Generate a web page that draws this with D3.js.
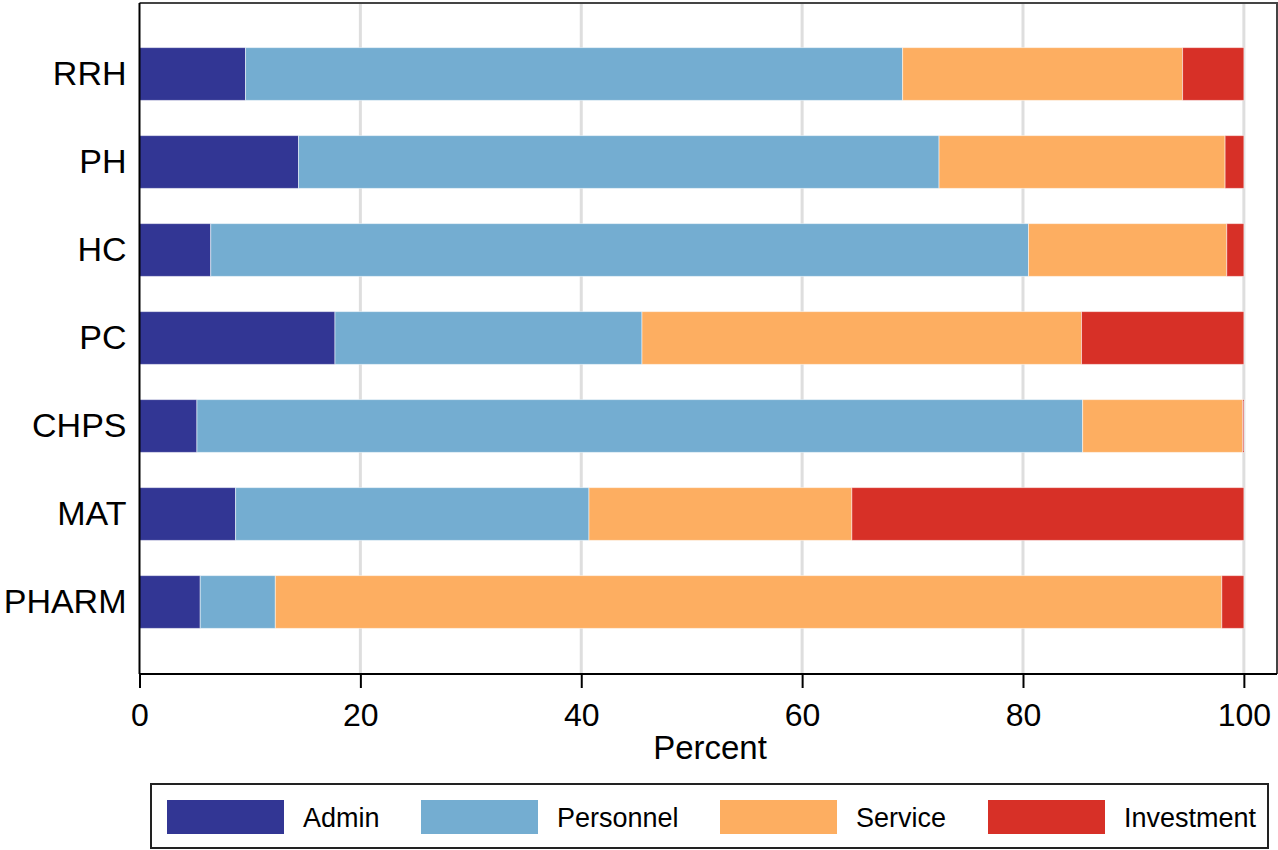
<!DOCTYPE html>
<html lang="en">
<head>
    <meta charset="UTF-8">
    <title>Spending shares by facility type</title>
    <script src="https://d3js.org/d3.v7.min.js"></script>
    <style>
        body { margin: 0; background: #fff; }
        svg { font-family: "Liberation Sans", Arial, sans-serif; }
    </style>
</head>
<body>
    <svg id="chart" width="1278" height="850"></svg>
    <script>
        // facility types, top to bottom
        const categories = ["RRH", "PH", "HC", "PC", "CHPS", "MAT", "PHARM"];
        const seriesNames = ["Admin", "Personnel", "Service", "Investment"];
        // percent shares per category (same order as categories)
        const admin      = [9.6, 14.4, 6.45, 17.7, 5.2, 8.7, 5.5];
        const personnel  = [59.5, 58.0, 74.05, 27.8, 80.2, 32.0, 6.8];
        const service    = [25.35, 25.9, 17.95, 39.8, 14.5, 23.8, 85.7];
        const investment = [5.55, 1.7, 1.55, 14.7, 0.1, 35.5, 2.0];
        const xTicks = [0, 20, 40, 60, 80, 100];
        const colors = ["#323694", "#74add1", "#fdae61", "#d73027"];

        const svg = d3.select("#chart");
        const plotL = 139.5, plotR = 1277, plotT = 3, plotB = 674;

        const x = d3.scaleLinear().domain([0, 103]).range([plotL, plotR]);
        const y = d3.scaleBand().domain(categories).range([30, 646]).paddingInner(0.4).paddingOuter(0.2);

        const rows = categories.map((c, i) => ({
            cat: c, Admin: admin[i], Personnel: personnel[i], Service: service[i], Investment: investment[i]
        }));
        const stacked = d3.stack().keys(seriesNames)(rows);

        // grid lines
        svg.append("g").selectAll("line")
            .data(xTicks.filter(t => t > 0))
            .join("line")
            .attr("x1", d => x(d)).attr("x2", d => x(d))
            .attr("y1", plotT).attr("y2", plotB)
            .attr("stroke", "#dedede")
            .attr("stroke-width", 3);

        // frame (top & right)
        svg.append("path")
            .attr("d", `M${plotL},${plotT} H${plotR} V${plotB}`)
            .attr("fill", "none")
            .attr("stroke", "#444")
            .attr("stroke-width", 2);

        // bars
        svg.append("g").selectAll("g")
            .data(stacked)
            .join("g")
            .attr("fill", (d, i) => colors[i])
            .selectAll("rect")
            .data(d => d)
            .join("rect")
            .attr("x", d => x(d[0]))
            .attr("width", d => x(d[1]) - x(d[0]))
            .attr("y", d => y(d.data.cat))
            .attr("height", y.bandwidth())
            .attr("stroke", "#ffffff")
            .attr("stroke-opacity", 0.5)
            .attr("stroke-width", 1);

        // x axis
        const xAxis = svg.append("g")
            .attr("transform", `translate(0,${plotB})`)
            .call(d3.axisBottom(x).tickValues(xTicks).tickSize(14).tickPadding(15).tickSizeOuter(0));
        xAxis.select(".domain").attr("stroke", "#000").attr("stroke-width", 2)
            .attr("d", `M${plotL},0H${plotR}`);
        xAxis.selectAll(".tick line").attr("stroke", "#000").attr("stroke-width", 2);
        xAxis.selectAll(".tick text").attr("font-size", 32).attr("fill", "#000")
            .attr("font-family", "Liberation Sans, Arial, sans-serif");

        // y axis
        const yAxis = svg.append("g")
            .attr("transform", `translate(${plotL},0)`)
            .call(d3.axisLeft(y).tickSize(0).tickPadding(13));
        yAxis.select(".domain").attr("stroke", "#000").attr("stroke-width", 2)
            .attr("d", `M0,${plotT}V${plotB}`);
        yAxis.selectAll(".tick text").attr("font-size", 34).attr("fill", "#000")
            .attr("font-family", "Liberation Sans, Arial, sans-serif");

        // axis title
        svg.append("text")
            .attr("x", 710)
            .attr("y", 759)
            .attr("text-anchor", "middle")
            .attr("font-size", 33)
            .text("Percent");

        // legend
        const legend = svg.append("g");
        legend.append("rect")
            .attr("x", 151).attr("y", 784)
            .attr("width", 1117).attr("height", 64)
            .attr("fill", "#fff")
            .attr("stroke", "#222")
            .attr("stroke-width", 2);
        const legendX = [167, 421, 720, 988];
        const item = legend.selectAll("g.item")
            .data(seriesNames)
            .join("g")
            .attr("class", "item")
            .attr("transform", (d, i) => `translate(${legendX[i]},800)`);
        item.append("rect")
            .attr("width", 117).attr("height", 34)
            .attr("fill", (d, i) => colors[i]);
        item.append("text")
            .attr("x", 136).attr("y", 27)
            .attr("font-size", 27)
            .text(d => d);
    </script>
</body>
</html>
